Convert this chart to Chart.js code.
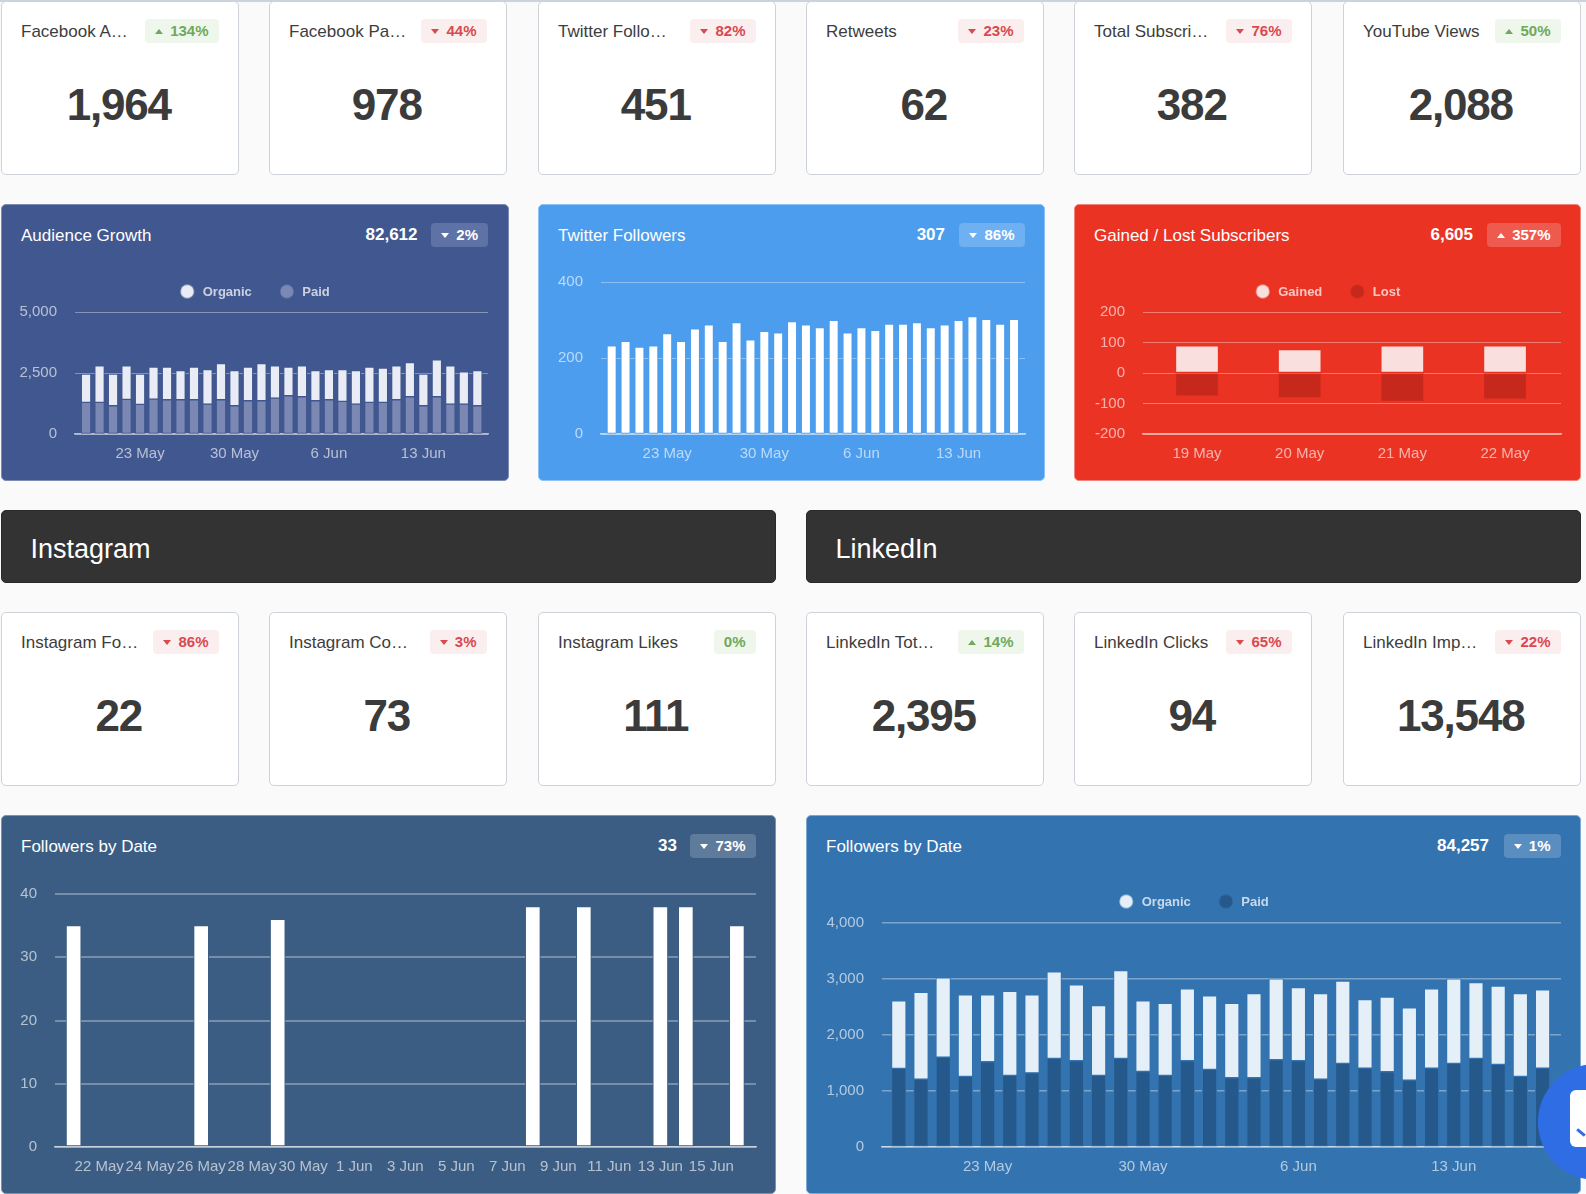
<!DOCTYPE html>
<html><head><meta charset="utf-8">
<script src="https://cdn.jsdelivr.net/npm/chart.js@4"></script>
<style>
html,body{margin:0;padding:0;width:1586px;height:1194px;overflow:hidden;background:#fafafa;font-family:"Liberation Sans",Arial,sans-serif}
.abs{position:absolute;box-sizing:border-box}
.card{background:#fff;border:1px solid #ced3d9;border-radius:5px}
.ct{position:absolute;left:19.5px;font-size:17px;color:#3d3d3d;line-height:20px;white-space:nowrap}
.badge{position:absolute;height:24px;border-radius:4px;font-weight:700;font-size:15px;line-height:24px;padding:0 10px;display:flex;align-items:center;gap:7px;white-space:nowrap;box-sizing:border-box}
.up{width:0;height:0;border-left:4.5px solid transparent;border-right:4.5px solid transparent;border-bottom:5px solid currentColor}
.down{width:0;height:0;border-left:4.5px solid transparent;border-right:4.5px solid transparent;border-top:5px solid currentColor}
.num{position:absolute;left:0;right:2px;text-align:center;font-weight:700;font-size:44px;line-height:50px;letter-spacing:-1.2px;color:#3b3b3b}
.panel{border-radius:5px}
.pt{position:absolute;left:19.5px;font-size:17px;line-height:20px;color:#fff;white-space:nowrap}
.pv{position:absolute;font-size:17px;line-height:20px;font-weight:700;color:#fff;white-space:nowrap}
.head{background:#333;border:1px solid #2a2a2a;border-radius:5px;color:#fff;font-size:27px;line-height:77px;padding-left:28.5px}
canvas{position:absolute;display:block}
</style></head><body>
<div class="abs" style="left:0;top:0;width:1586px;height:2px;background:#cdd3da"></div>
<script>
// ---------- KPI cards ----------
const kpiTitlesTop=["Facebook A…","Facebook Pa…","Twitter Follo…","Retweets","Total Subscri…","YouTube Views"];
const kpiValuesTop=["1,964","978","451","62","382","2,088"];
const kpiChangesTop=["134%","44%","82%","23%","76%","50%"];
const kpiDirsTop=["up","down","down","down","down","up"];
const kpiTitlesBottom=["Instagram Fo…","Instagram Co…","Instagram Likes","LinkedIn Tot…","LinkedIn Clicks","LinkedIn Imp…"];
const kpiValuesBottom=["22","73","111","2,395","94","13,548"];
const kpiChangesBottom=["86%","3%","0%","14%","65%","22%"];
const kpiDirsBottom=["down","down","flat","up","down","down"];

// ---------- Audience Growth ----------
const audienceDates=["19 May","20 May","21 May","22 May","23 May","24 May","25 May","26 May","27 May","28 May","29 May","30 May","31 May","1 Jun","2 Jun","3 Jun","4 Jun","5 Jun","6 Jun","7 Jun","8 Jun","9 Jun","10 Jun","11 Jun","12 Jun","13 Jun","14 Jun","15 Jun","16 Jun","17 Jun"];
const audiencePaid=[1294,1294,1158,1417,1212,1430,1403,1403,1403,1226,1403,1158,1362,1362,1471,1566,1525,1362,1403,1335,1226,1294,1294,1403,1525,1158,1525,1226,1226,1158];
const audienceTotal=[2452,2793,2452,2793,2452,2738,2738,2602,2738,2642,2887,2602,2738,2887,2793,2738,2793,2602,2642,2642,2602,2738,2697,2793,2928,2452,3037,2793,2547,2602];
const audienceOrganic=audienceTotal.map((t,i)=>t-audiencePaid[i]);

// ---------- Twitter Followers ----------
const twitterValues=[232,244,229,232,264,244,277,287,244,293,248,270,266,296,287,280,299,266,280,273,289,289,293,280,287,299,309,302,289,302];

// ---------- Gained / Lost ----------
const subscriberDates=["19 May","20 May","21 May","22 May"];
const subscriberGained=[89,77,89,89];
const subscriberLost=[-76,-82,-93,-86];

// ---------- Instagram followers ----------
const instagramDates=["21 May","22 May","23 May","24 May","25 May","26 May","27 May","28 May","29 May","30 May","31 May","1 Jun","2 Jun","3 Jun","4 Jun","5 Jun","6 Jun","7 Jun","8 Jun","9 Jun","10 Jun","11 Jun","12 Jun","13 Jun","14 Jun","15 Jun","16 Jun"];
const instagramValues=[35,0,0,0,0,35,0,0,36,0,0,0,0,0,0,0,0,0,38,0,38,0,0,38,38,0,35];

// ---------- LinkedIn followers ----------
const linkedinPaid=[1403,1212,1606,1260,1522,1278,1325,1582,1540,1278,1582,1349,1278,1540,1385,1236,1236,1558,1540,1212,1493,1409,1343,1194,1409,1493,1582,1475,1260,1409];
const linkedinTotal=[2609,2764,3021,2716,2716,2782,2716,3128,2896,2525,3152,2609,2567,2824,2698,2567,2740,3003,2848,2740,2961,2633,2675,2484,2824,3003,2937,2872,2740,2806];
const linkedinOrganic=linkedinTotal.map((t,i)=>t-linkedinPaid[i]);

// ---------- Page furniture ----------
const cardX=[0.5,268.5,537.5,805.5,1073.5,1342.5];
const CW=238.5;
function el(cls,css,html,parent){const d=document.createElement('div');d.className=cls;d.style.cssText=css;if(html!=null)d.innerHTML=html;(parent||document.body).appendChild(d);return d;}
function badgeHtml(dir,txt){return (dir==='flat'?'':'<span class="'+dir+'"></span>')+'<span>'+txt+'</span>';}
function cards(titles,vals,chg,dirs,top){
  titles.forEach((t,i)=>{
    const c=el('abs card',`left:${cardX[i]}px;top:${top}px;width:${CW}px;height:174px`);
    el('ct',`top:20px`,t,c);
    const col=dirs[i]==='down'?'background:#fbeeee;color:#d9494f':'background:#eff6ec;color:#6fa95b';
    el('badge',`right:19.5px;top:17px;${col}`,badgeHtml(dirs[i],chg[i]),c);
    el('num',`top:77.5px`,vals[i],c);
  });
}
cards(kpiTitlesTop,kpiValuesTop,kpiChangesTop,kpiDirsTop,1);
cards(kpiTitlesBottom,kpiValuesBottom,kpiChangesBottom,kpiDirsBottom,612);
el('abs head','left:1px;top:510px;width:775px;height:73px','Instagram');
el('abs head','left:806px;top:510px;width:775px;height:73px','LinkedIn');

function panel(x,y,w,h,bg,bd,title,val,dir,chg,badgeBg,valRightGap){
  const p=el('abs panel',`left:${x}px;top:${y}px;width:${w}px;height:${h}px;background:${bg};border:1px solid ${bd}`);
  el('pt',`top:21px`,title,p);
  el('badge',`right:19.5px;top:18px;background:${badgeBg};color:#fff`,badgeHtml(dir,chg),p);
  el('pv',`right:${valRightGap}px;top:20px`,val,p);
}
panel(0.5,204,508,277,'#41578f','#7d8bb3','Audience Growth','82,612','down','2%','#5f72a5',90);
panel(537.5,204,507.5,277,'#4c9ded','#8ec2f4','Twitter Followers','307','down','86%','#6eb0f1',99);
panel(1073.5,204,507.5,277,'#ea3323','#f1837a','Gained / Lost Subscribers','6,605','up','357%','#ee5a4e',107);
panel(0.5,815,775.5,379,'#3c5d83','#7d93ad','Followers by Date','33','down','73%','#5f7b9b',98);
panel(805.5,815,775.5,379,'#3373b0','#7fa8d0','Followers by Date','84,257','down','1%','#5a8dc0',91);

// ---------- Charts ----------
Chart.defaults.font.family='"Liberation Sans",Arial,sans-serif';
Chart.defaults.animation=false;
function dot(color){
  const c=document.createElement('canvas');c.width=18;c.height=18;
  const x=c.getContext('2d');x.fillStyle=color;x.beginPath();x.arc(9,8,6.7,0,Math.PI*2);x.fill();
  return c;
}
function makeChart(o){
  const cv=document.createElement('canvas');
  cv.width=o.right-o.left;cv.height=o.bottom-o.top;
  cv.style.left=o.left+'px';cv.style.top=o.top+'px';
  document.body.appendChild(cv);
  const hasLegend=!!o.legendH;
  const tick='rgba(255,255,255,.62)';
  const grid=o.gridColor||'rgba(255,255,255,.36)';
  return new Chart(cv.getContext('2d'),{
    type:'bar',
    data:{datasets:o.series.map(s=>({
      label:s.label,
      data:s.values.map((v,i)=>({x:i,y:v})),
      backgroundColor:s.color,borderColor:o.bg,borderWidth:1,borderSkipped:false,
      barThickness:o.barT
    }))},
    plugins:[{id:'legendFit',
      beforeLayout(chart){
        const l=chart.legend;
        if(hasLegend&&l&&!l._fx){const f=l.fit;l.fit=function(){f.call(this);this.height=o.legendH;};l._fx=true;}
      },
      afterLayout(chart){
        if(hasLegend){chart.legend.left+=9.5;chart.legend.right+=9.5;}
      }
    }],
    options:{
      responsive:false,
      layout:{padding:{left:0,right:o.right-o.plotR,top:hasLegend?0:o.plotT-o.top,bottom:0}},
      plugins:{
        tooltip:{enabled:false},
        legend:{display:hasLegend,position:'top',reverse:!!o.reverse,
          labels:{usePointStyle:true,pointStyleWidth:18,boxHeight:13,padding:26,
            color:'rgba(255,255,255,.72)',font:{size:13,weight:'bold'},
            generateLabels(chart){
              const base=Chart.defaults.plugins.legend.labels.generateLabels(chart);
              base.forEach(b=>{b.pointStyle=dot(o.series[b.datasetIndex].color);});
              return base;
            }}}
      },
      scales:{
        x:{type:'linear',stacked:true,offset:false,min:o.xMin,max:o.xMax,
          grid:{display:false,offset:false},
          border:{display:true,color:'rgba(255,255,255,.6)',width:1.5},
          afterBuildTicks(s){s.ticks=o.tickIdx.map(v=>({value:v}));},
          afterFit(s){s.height=o.bottom-o.plotB;},
          ticks:{autoSkip:false,maxRotation:0,minRotation:0,padding:3,color:tick,font:{size:15},
            callback:v=>o.dates[v]}
        },
        y:{stacked:true,min:o.yMin,max:o.yMax,
          grid:{color:grid,lineWidth:o.gridW||1,drawTicks:false},
          border:{display:false},
          afterFit(s){s.width=o.plotL-o.left;},
          ticks:{stepSize:o.step,padding:18,color:tick,font:{size:15},
            callback:v=>v.toLocaleString('en-US')}
        }
      }
    }
  });
}
makeChart({left:1,right:508,top:260,bottom:480,plotL:75,plotR:488,plotT:312,plotB:434,legendH:52,reverse:true,
  bg:'#41578f',barT:9.5,xMin:-0.82,xMax:29.79,yMin:0,yMax:5000,step:2500,dates:audienceDates,tickIdx:[4,11,18,25],
  series:[{label:'Paid',values:audiencePaid,color:'#7a88b3'},{label:'Organic',values:audienceOrganic,color:'#e9ecf4'}]});
makeChart({left:538,right:1045,top:242,bottom:480,plotL:601,plotR:1025,plotT:282,plotB:434,
  bg:'#4c9ded',barT:9.3,xMin:-0.77,xMax:29.79,yMin:0,yMax:400,step:200,dates:audienceDates,tickIdx:[4,11,18,25],
  series:[{label:'Twitter Followers',values:twitterValues,color:'#ffffff'}]});
makeChart({left:1074,right:1581,top:260,bottom:480,plotL:1143,plotR:1561,plotT:312,plotB:434,legendH:52,
  bg:'#ea3323',barT:43,xMin:-0.526,xMax:3.545,yMin:-200,yMax:200,step:100,dates:subscriberDates,tickIdx:[0,1,2,3],
  series:[{label:'Gained',values:subscriberGained,color:'#f9e0de'},{label:'Lost',values:subscriberLost,color:'#c7281c'}]});
makeChart({left:1,right:776,top:854,bottom:1194,plotL:55,plotR:756,plotT:894,plotB:1147,gridW:2,gridColor:'rgba(255,255,255,.3)',
  bg:'#3c5d83',barT:15,xMin:-0.73,xMax:26.75,yMin:0,yMax:40,step:10,dates:instagramDates,tickIdx:[1,3,5,7,9,11,13,15,17,19,21,23,25],
  series:[{label:'Followers',values:instagramValues,color:'#ffffff'}]});
makeChart({left:806,right:1581,top:870,bottom:1194,plotL:882,plotR:1561,plotT:923,plotB:1147,legendH:53,reverse:true,gridW:1.5,
  bg:'#3373b0',barT:14.5,xMin:-0.757,xMax:29.83,yMin:0,yMax:4000,step:1000,dates:audienceDates,tickIdx:[4,11,18,25],
  series:[{label:'Paid',values:linkedinPaid,color:'#25598c'},{label:'Organic',values:linkedinOrganic,color:'#e4eff7'}]});

// ---------- Chat widget ----------
el('abs','left:1538px;top:1064px;width:116px;height:116px;border-radius:50%;background:#2f6de4');
el('abs','left:1570px;top:1090px;width:40px;height:57px;border-radius:6px;background:#fff');
el('abs','left:1576px;top:1131px;width:10px;height:3px;background:#2f6de4;transform:rotate(40deg)');
</script>
</body></html>
